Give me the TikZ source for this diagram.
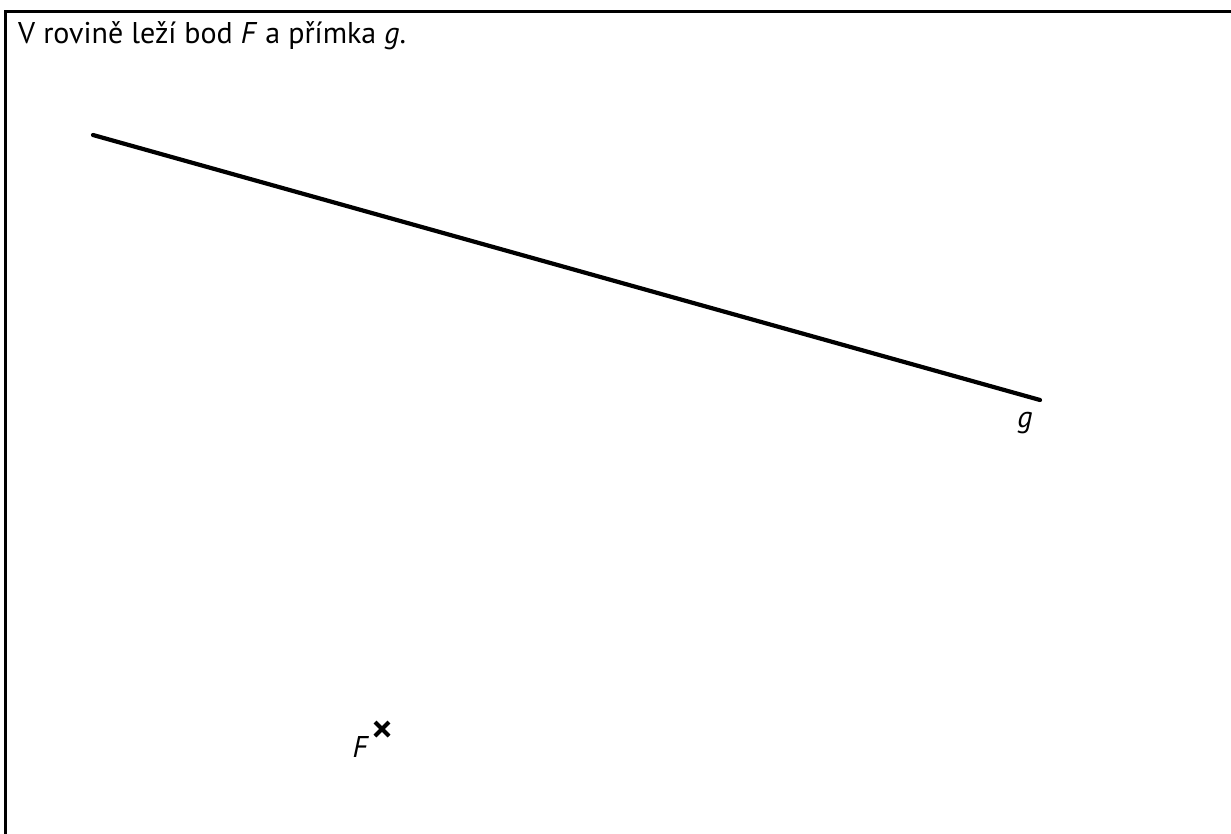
\documentclass[tikz,border=0pt]{standalone}
\usepackage{fontspec}
\setmainfont{PT Sans}
\begin{document}
\begin{tikzpicture}[x=1pt,y=-1pt,
  frameline/.style={line width=3.5pt},
  gline/.style={line width=4.2pt, line cap=round},
  crossline/.style={line width=4pt},
  lbl/.style={font=\fontsize{30}{35}\selectfont\itshape, inner sep=0pt}]
\useasboundingbox (0,0) rectangle (1231,834);
\draw[frameline] (5.5,836) -- (5.5,11.5) -- (1233,11.5);
\node[anchor=base west, inner sep=0pt, font=\fontsize{30}{35}\selectfont] (title) at (18,44) {V rovině leží bod \textit{F} a přímka \textit{g}.};
\coordinate (g1) at (93,135);
\coordinate (g2) at (1040,400);
\draw[gline] (g1) -- (g2);
\node[lbl, anchor=base] (glabel) at (1025,427) {g};
\node[lbl, anchor=base] (Flabel) at (360,757) {F};
\coordinate (F) at (382,729);
\draw[crossline] ([shift={(-7,-7)}]F) -- ([shift={(7,7)}]F);
\draw[crossline] ([shift={(-7,7)}]F) -- ([shift={(7,-7)}]F);
\end{tikzpicture}
\end{document}
